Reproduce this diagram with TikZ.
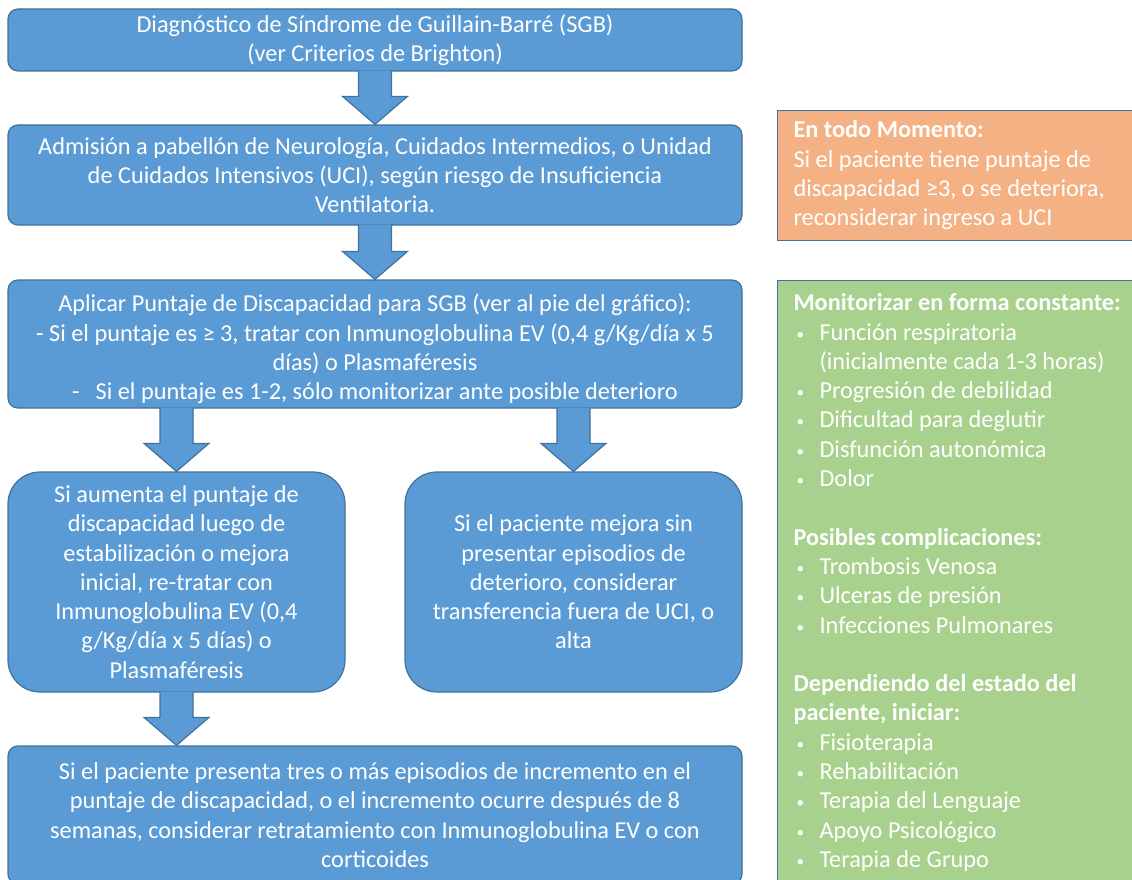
\documentclass[tikz,border=0pt]{standalone}
\usepackage{fontspec}
\setmainfont{Carlito}
\usetikzlibrary{calc}
\definecolor{boxfill}{HTML}{5B9BD5}
\definecolor{boxline}{HTML}{41719C}
\definecolor{alertfill}{HTML}{F4B183}
\definecolor{monitorfill}{HTML}{A9D18E}
\newcommand\bul[1]{\makebox[26pt][l]{\hspace*{3pt}\raisebox{1pt}{\fontsize{15pt}{15pt}\selectfont\textbullet}}#1}
\begin{document}
\begin{tikzpicture}
    [ x=1pt, y=-1pt,
      step-box/.style = {
        shape=rectangle, rounded corners=10pt,
        draw=boxline, line width=1.2pt, fill=boxfill,
        text=white, align=center, inner sep=0pt,
        font={\fontsize{24.3pt}{29.3pt}\selectfont}
      },
      round-box/.style = {
        step-box, rounded corners=32pt,
        minimum width=337pt, minimum height=220pt
      },
      note-box/.style = {
        shape=rectangle, draw=boxline, line width=1pt,
        text=white, align=flush left, anchor=north west,
        inner xsep=16pt, inner ysep=0pt, text width=345pt,
        font={\fontsize{24.3pt}{29.3pt}\selectfont}
      },
      block-arrow/.style = {
        draw=boxline, line width=1.2pt, fill=boxfill, line join=miter
      }]
      \useasboundingbox (0,0) rectangle (1132,880);
      % main flow
      \node [step-box, minimum width=734pt, minimum height=62pt] (diag) at (375,40)
        {Diagnóstico de Síndrome de Guillain-Barré (SGB)\\(ver Criterios de Brighton)};
      \node [step-box, minimum width=734pt, minimum height=100pt] (admit) at (375,175)
        {Admisión a pabellón de Neurología, Cuidados Intermedios, o Unidad\\
         de Cuidados Intensivos (UCI), según riesgo de Insuficiencia\\Ventilatoria.};
      \node [step-box, minimum width=734pt, minimum height=128pt] (score) at (375,344)
        {\rule{0pt}{28pt}Aplicar Puntaje de Discapacidad para SGB (ver al pie del gráfico):\\
         - Si el puntaje es ≥ 3, tratar con Inmunoglobulina EV (0,4 g/Kg/día x 5\\
         días) o Plasmaféresis\\
         -\hspace*{16pt}Si el puntaje es 1-2, sólo monitorizar ante posible deterioro};
      \node [round-box] (retreat) at (176.5,582)
        {Si aumenta el puntaje de\\discapacidad luego de\\estabilización o mejora\\
         inicial, re-tratar con\\Inmunoglobulina EV (0,4\\g/Kg/día x 5 días) o\\Plasmaféresis};
      \node [round-box] (improve) at (573.5,582)
        {Si el paciente mejora sin\\presentar episodios de\\deterioro, considerar\\
         transferencia fuera de UCI, o\\alta};
      \node [step-box, minimum width=734pt, minimum height=138pt] (final) at (375,815)
        {Si el paciente presenta tres o más episodios de incremento en el\\
         puntaje de discapacidad, o el incremento ocurre después de 8\\
         semanas, considerar retratamiento con Inmunoglobulina EV o con\\corticoides};
      % block arrows
      \foreach \from/\to/\col in {diag/admit/admit, admit/score/score,
          score/retreat/retreat, score/improve/improve, retreat/final/retreat} {
        \coordinate (s) at ($(\from.south -| \col.south)+(0,-1)$);
        \coordinate (t) at (\to.north -| \col.south);
        \draw [block-arrow] ($(s)+(-16.5,0)$) -- ($(t)+(-16.5,-28)$)
          -- ($(t)+(-32.5,-28)$) -- (t) -- ($(t)+(32.5,-28)$)
          -- ($(t)+(16.5,-28)$) -- ($(s)+(16.5,0)$);
      }
      % side notes
      \node [note-box, fill=alertfill, minimum height=130pt] (alert) at (777,110)
        {\textbf{En todo Momento:}\\Si el paciente tiene puntaje de\\
         discapacidad ≥3, o se deteriora,\\reconsiderar ingreso a UCI};
      \node [note-box, fill=monitorfill, minimum height=604pt] (monitor) at (777,280)
        {\textbf{Monitorizar en forma constante:}\\
         \bul{Función respiratoria}\\
         \hspace*{26pt}(inicialmente cada 1-3 horas)\\
         \bul{Progresión de debilidad}\\
         \bul{Dificultad para deglutir}\\
         \bul{Disfunción autonómica}\\
         \bul{Dolor}\\[29.3pt]
         \textbf{Posibles complicaciones:}\\
         \bul{Trombosis Venosa}\\
         \bul{Ulceras de presión}\\
         \bul{Infecciones Pulmonares}\\[29.3pt]
         \textbf{Dependiendo del estado del}\\
         \textbf{paciente, iniciar:}\\
         \bul{Fisioterapia}\\
         \bul{Rehabilitación}\\
         \bul{Terapia del Lenguaje}\\
         \bul{Apoyo Psicológico}\\
         \bul{Terapia de Grupo}};
\end{tikzpicture}
\end{document}
